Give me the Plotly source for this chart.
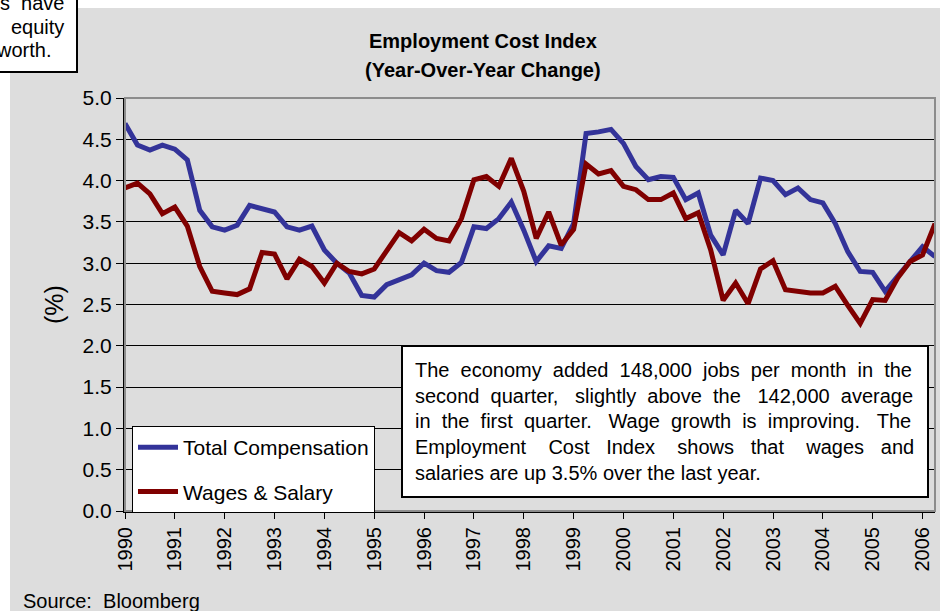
import plotly.graph_objects as go

# quarterly year-over-year change (%), 1990 Q1 .. 2006 Q2
start_year = 1990
total_comp = [4.69, 4.43, 4.37, 4.43, 4.38, 4.25, 3.64, 3.44, 3.40, 3.46,
              3.70, 3.66, 3.62, 3.44, 3.40, 3.45, 3.16, 3.00, 2.88, 2.61,
              2.59, 2.74, 2.80, 2.86, 3.00, 2.91, 2.89, 3.01, 3.44, 3.42,
              3.54, 3.74, 3.40, 3.02, 3.21, 3.18, 3.48, 4.57, 4.59, 4.62,
              4.45, 4.17, 4.01, 4.05, 4.04, 3.77, 3.85, 3.34, 3.10, 3.64,
              3.48, 4.03, 4.00, 3.83, 3.91, 3.77, 3.73, 3.48, 3.14, 2.90,
              2.89, 2.66, 2.84, 3.02, 3.20, 3.08]
wages_salary = [3.91, 3.97, 3.84, 3.60, 3.68, 3.45, 2.96, 2.66, 2.64, 2.62,
                2.69, 3.13, 3.11, 2.81, 3.05, 2.96, 2.76, 3.00, 2.90, 2.87,
                2.93, 3.16, 3.37, 3.27, 3.41, 3.30, 3.27, 3.54, 4.01, 4.05,
                3.93, 4.27, 3.87, 3.30, 3.62, 3.22, 3.41, 4.20, 4.08, 4.12,
                3.93, 3.89, 3.77, 3.77, 3.85, 3.54, 3.61, 3.16, 2.55, 2.76,
                2.51, 2.93, 3.03, 2.68, 2.66, 2.64, 2.64, 2.72, 2.49, 2.27,
                2.56, 2.55, 2.82, 3.02, 3.10, 3.48]
quarters = [start_year + i / 4 for i in range(len(total_comp))]
year_ticks = list(range(1990, 2007))

title_lines = ["Employment Cost Index", "(Year-Over-Year Change)"]
# spacing widened by hand to imitate the justified text box
note_lines = ["The  economy  added  148,000  jobs  per  month  in  the",
              "second  quarter,   slightly  above  the   142,000  average",
              "in  the  first  quarter.   Wage  growth  is  improving.   The",
              "Employment    Cost   Index    shows   that    wages   and",
              "salaries are up 3.5% over the last year."]
corner_lines = ["s  have", "equity", "worth."]

FONT = "Arial, Liberation Sans, sans-serif"
BG = "#DDDDDD"

def nb(s): return s.replace(" ", "&nbsp;")

fig = go.Figure()
fig.add_trace(go.Scatter(x=quarters, y=total_comp, mode="lines", name="Total Compensation",
                         line=dict(color="#333399", width=5), legendgroup="a"))
fig.add_trace(go.Scatter(x=quarters, y=wages_salary, mode="lines", name="Wages & Salary",
                         line=dict(color="#800000", width=5), legendgroup="b"))

# plot geometry in pixels -> paper helpers
L, R, T, B = 125, 935, 98, 511
def px(x): return (x - L) / (R - L)
def py(y): return (B - y) / (B - T)

fig.update_layout(
    width=940, height=611,
    margin=dict(l=L, r=940 - R, t=T, b=611 - B),
    paper_bgcolor="white", plot_bgcolor=BG,
    font=dict(family=FONT, size=21, color="black"),
    showlegend=True,
    legend=dict(x=px(132), y=py(426), xanchor="left", yanchor="top",
                bgcolor="white", bordercolor="black", borderwidth=1,
                font=dict(size=21), tracegroupgap=14, traceorder="grouped",
                itemwidth=40),
    xaxis=dict(range=[1990, 2006.25], tickmode="array", tickvals=year_ticks,
               ticktext=[str(y) for y in year_ticks], tickangle=-90,
               tickfont=dict(size=20),
               showgrid=False, showline=True, linecolor="black", linewidth=2,
               ticks="outside", ticklen=6, tickcolor="black", zeroline=False),
    yaxis=dict(range=[0, 5], dtick=0.5, tickformat=".1f",
               showgrid=True, gridcolor="black", gridwidth=1,
               showline=True, linecolor="black", linewidth=2,
               ticks="outside", ticklen=7, tickcolor="black", zeroline=False,
               title=dict(text="(%)", standoff=12)),
)

for k, line in enumerate(title_lines):
    fig.add_annotation(xref="paper", yref="paper", x=px(483), y=py(41 + 29 * k),
                       xanchor="center", yanchor="middle", showarrow=False,
                       text="<b>" + line + "</b>", font=dict(size=20))

# chart area background and plot area border
fig.add_shape(type="rect", xref="paper", yref="paper", x0=px(10), x1=px(960),
              y0=py(640), y1=py(8), fillcolor=BG, line_width=0, layer="below")
fig.add_shape(type="rect", xref="paper", yref="paper", x0=0, x1=1, y0=0, y1=1,
              line=dict(color="#8C8C8C", width=2), fillcolor="rgba(0,0,0,0)")

# commentary box
fig.add_shape(type="rect", xref="paper", yref="paper", x0=px(402), x1=px(928),
              y0=py(497), y1=py(346), fillcolor="white", line=dict(color="black", width=2))
for k, line in enumerate(note_lines):
    fig.add_annotation(xref="paper", yref="paper", x=px(413), y=py(370 + 25.7 * k),
                       xanchor="left", yanchor="middle", showarrow=False,
                       text=nb(line), font=dict(size=20))

# clipped text box top-left
fig.add_shape(type="rect", xref="paper", yref="paper", x0=px(-5), x1=px(77),
              y0=py(72), y1=py(-5), fillcolor="white", line=dict(color="black", width=2))
for k, (line, right) in enumerate(zip(corner_lines, [66, 66, 53])):
    fig.add_annotation(xref="paper", yref="paper", x=px(right), y=py(3 + 23.5 * k),
                       xanchor="right", yanchor="middle", showarrow=False,
                       text=nb(line), font=dict(size=20))

fig.add_annotation(xref="paper", yref="paper", x=px(21), y=py(601),
                   xanchor="left", yanchor="middle", showarrow=False,
                   text=nb("Source:  Bloomberg"), font=dict(size=20))

fig.write_html("out.html", config={"displayModeBar": False},
               post_script="document.body.style.margin='0';")
